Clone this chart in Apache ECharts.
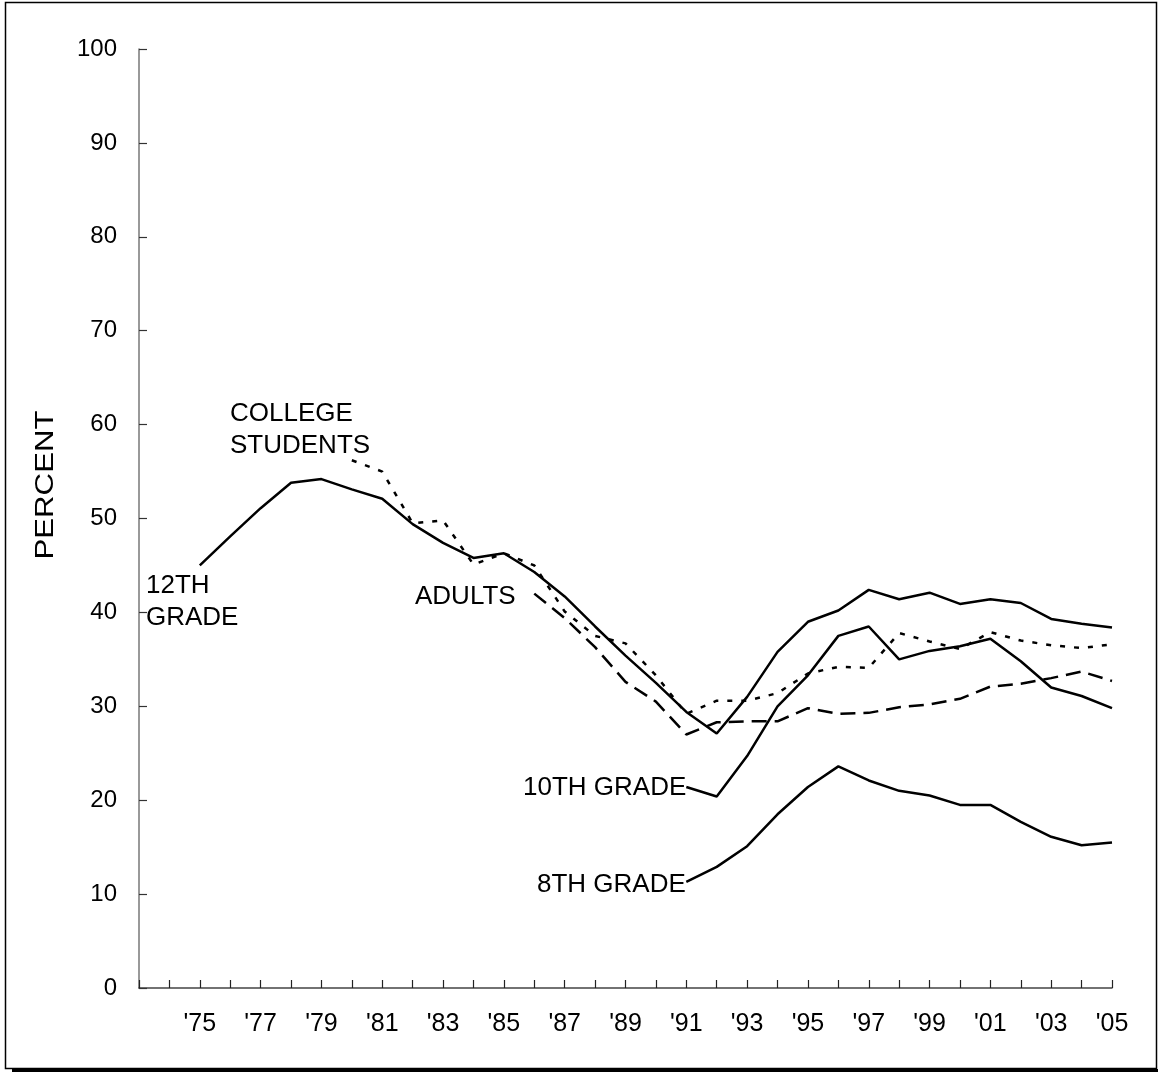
<!DOCTYPE html>
<html>
<head>
<meta charset="utf-8">
<script src="https://cdn.jsdelivr.net/npm/echarts@6/dist/echarts.min.js"></script>
<style>
html,body{margin:0;padding:0;background:#fff;}
#chart{width:1158px;height:1074px;}
</style>
</head>
<body>
<div id="chart"></div>
<script>
var years = ["'73","'74","'75","'76","'77","'78","'79","'80","'81","'82","'83","'84","'85","'86","'87","'88","'89","'90","'91","'92","'93","'94","'95","'96","'97","'98","'99","'00","'01","'02","'03","'04","'05"];
var grade12 = [null,null,45.0,48.1,51.1,53.8,54.2,53.1,52.1,49.4,47.4,45.8,46.3,44.3,41.7,38.5,35.4,32.5,29.4,27.1,31.0,35.8,39.0,40.2,42.4,41.4,42.1,40.9,41.4,41.0,39.3,38.8,38.4];
var grade10 = [null,null,null,null,null,null,null,null,null,null,null,null,null,null,null,null,null,null,21.4,20.4,24.7,30.0,33.3,37.5,38.5,35.0,35.9,36.4,37.2,34.8,32.0,31.1,29.8];
var grade8 = [null,null,null,null,null,null,null,null,null,null,null,null,null,null,null,null,null,null,11.3,12.9,15.1,18.5,21.4,23.6,22.1,21.0,20.5,19.5,19.5,17.7,16.1,15.2,15.5];
var college = [null,null,null,null,null,null,null,56.2,55.0,49.5,49.8,45.1,46.3,45.0,40.1,37.5,36.7,33.3,29.2,30.6,30.6,31.4,33.5,34.2,34.1,37.8,36.9,36.1,37.9,37.0,36.5,36.2,36.6];
var adults = [null,null,null,null,null,null,null,null,null,null,null,null,null,42.0,39.4,36.3,32.6,30.5,27.0,28.3,28.4,28.4,29.8,29.2,29.3,29.9,30.2,30.8,32.1,32.4,33.0,33.7,32.7];

var FONT = "'Liberation Sans', Arial, sans-serif";
var chart = echarts.init(document.getElementById('chart'), null, {renderer:'canvas'});

function lineSeries(name, data, dash){
  return {
    name: name, type: 'line', data: data, symbol: 'none', connectNulls: false,
    lineStyle: {color: '#000', width: 2.5, type: dash || 'solid'},
    silent: true
  };
}
function ann(text, x, y){
  return {type:'text', x:x, y:y, z:10,
    style:{text:text, fontSize:26, fontFamily:FONT, fill:'#000', align:'left', verticalAlign:'middle'}};
}

chart.setOption({
  animation: false,
  backgroundColor: '#fff',
  grid: {left: 139, right: 46, top: 49, bottom: 86, containLabel: false},
  xAxis: {
    type: 'category', data: years, boundaryGap: false,
    axisLine: {lineStyle: {color: '#444', width: 1.5}},
    axisTick: {inside: true, length: 8, interval: 0, lineStyle: {color: '#222', width: 1.2}},
    axisLabel: {
      interval: function(i){ return i >= 2 && i % 2 === 0; },
      fontSize: 25, fontFamily: FONT, color: '#000', margin: 24
    },
    splitLine: {show: false}
  },
  yAxis: {
    type: 'value', min: 0, max: 100, interval: 10,
    axisLine: {show: true, lineStyle: {color: '#777', width: 1.5}},
    axisTick: {show: true, inside: true, length: 8, lineStyle: {color: '#333', width: 1.2}},
    axisLabel: {fontSize: 24, fontFamily: FONT, color: '#000', margin: 22},
    splitLine: {show: false}
  },
  graphic: [
    {type:'rect', shape:{x:5.5, y:2.5, width:1151, height:1066}, style:{fill:'none', stroke:'#000', lineWidth:1.5}, z:-10},
    {type:'line', shape:{x1:12, y1:1070.5, x2:1158, y2:1070.5}, style:{stroke:'#000', lineWidth:3}, z:-10},
    {type:'text', x:46, y:485, rotation:Math.PI/2, scaleX:1.2, z:10,
      style:{text:'PERCENT', fontSize:26, fontFamily:FONT, fill:'#000', align:'center', verticalAlign:'middle'}},
    ann('COLLEGE', 230, 414),
    ann('STUDENTS', 230, 446),
    ann('12TH', 146, 586),
    ann('GRADE', 146, 618),
    ann('ADULTS', 415, 597),
    ann('10TH GRADE', 523, 788),
    ann('8TH GRADE', 537, 885)
  ],
  series: [
    lineSeries('12th Grade', grade12),
    lineSeries('10th Grade', grade10),
    lineSeries('8th Grade', grade8),
    lineSeries('College Students', college, [5, 9]),
    lineSeries('Adults', adults, [15, 8])
  ]
});
</script>
</body>
</html>
